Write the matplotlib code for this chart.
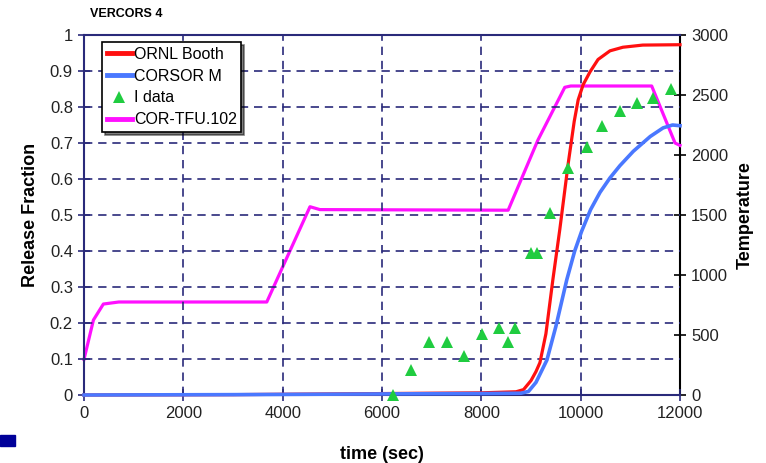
import matplotlib
matplotlib.use("Agg")
import matplotlib.pyplot as plt
from matplotlib.patches import Rectangle

plt.rcParams['font.family'] = ['Liberation Sans', 'DejaVu Sans']

# ORNL Booth release fraction
t_ornl = [0, 3000, 6000, 8000, 8700, 8850, 9000, 9100, 9180, 9300, 9440, 9580, 9750, 9870, 9950, 10050,
          10190, 10350, 10590, 10850, 11250, 12000]
f_ornl = [0, 0.001, 0.004, 0.006, 0.009, 0.015, 0.04, 0.065, 0.09, 0.17, 0.32, 0.46, 0.644, 0.76, 0.82, 0.862,
          0.898, 0.932, 0.956, 0.966, 0.972, 0.973]

# CORSOR M release fraction
t_cor = [0, 3000, 6000, 8000, 8800, 8950, 9100, 9320, 9500, 9720, 9880, 10020, 10200, 10390, 10590, 10790,
         11060, 11400, 11660, 11850, 12000]
f_cor = [0, 0.001, 0.003, 0.004, 0.005, 0.01, 0.035, 0.097, 0.19, 0.32, 0.40, 0.455, 0.515, 0.563, 0.603, 0.637,
         0.677, 0.718, 0.742, 0.750, 0.748]

# I data
t_idata = [6230, 6585, 6946, 7302, 7650, 8007, 8355, 8530, 8670, 9010, 9130, 9380, 9750, 10120, 10420, 10790,
           11140, 11460, 11810]
f_idata = [0.0, 0.07, 0.148, 0.148, 0.108, 0.169, 0.187, 0.148, 0.187, 0.394, 0.394, 0.506, 0.63, 0.69, 0.748,
           0.79, 0.81, 0.826, 0.85]

# COR-TFU.102 temperature
t_tfu = [0, 190, 390, 700, 3680, 4550, 4750, 8540, 9140, 9680, 9800, 11430, 11900, 12000]
T_tfu = [297, 625, 758, 775, 775, 1569, 1545, 1540, 2125, 2564, 2575, 2575, 2100, 2080]

x_ticks = [0, 2000, 4000, 6000, 8000, 10000, 12000]
y_ticks = [0, 0.1, 0.2, 0.3, 0.4, 0.5, 0.6, 0.7, 0.8, 0.9, 1]
y_ticklabels = ['0', '0.1', '0.2', '0.3', '0.4', '0.5', '0.6', '0.7', '0.8', '0.9', '1']
T_ticks = [0, 500, 1000, 1500, 2000, 2500, 3000]

navy = '#2a2a7a'

fig = plt.figure(figsize=(7.66, 4.63), dpi=100)
ax = fig.add_axes([84/766, 68/463, 596/766, 360/463])
ax2 = ax.twinx()

ax.set_xlim(0, 12000)
ax.set_ylim(0, 1)
ax2.set_ylim(0, 3000)

# grid
for yv in y_ticks[1:-1]:
    ax.axhline(yv, color=navy, lw=1.2, ls=(0, (5, 3.5)), zorder=0)
for xv in x_ticks[1:-1]:
    ax.axvline(xv, color=navy, lw=1.2, ls=(0, (5, 3.5)), zorder=0)

l1, = ax.plot(t_ornl, f_ornl, color='#ff1010', lw=2.3, label='ORNL Booth', clip_on=False, zorder=3)
l2, = ax.plot(t_cor, f_cor, color='#4a78ff', lw=2.6, label='CORSOR M', clip_on=False, zorder=3)
l3, = ax.plot(t_idata, f_idata, ls='none', marker='^', ms=8, color='#20cc40', markeredgewidth=0,
              label='I data', clip_on=False, zorder=4)
l4, = ax2.plot(t_tfu, T_tfu, color='#ff10ff', lw=2.3, label='COR-TFU.102', clip_on=False, zorder=3)

ax.set_zorder(ax2.get_zorder() + 1)
ax.patch.set_visible(False)

ax.set_xticks(x_ticks)
ax.set_xticklabels([str(v) for v in x_ticks])
ax.set_yticks(y_ticks)
ax.set_yticklabels(y_ticklabels)
ax2.set_yticks(T_ticks)
ax2.set_yticklabels([str(v) for v in T_ticks])

ax.tick_params(axis='both', direction='inout', length=8, width=1.2, color=navy, labelsize=12,
               labelcolor='#222222', pad=4)
ax2.tick_params(axis='y', direction='inout', length=8, width=1.2, color='black', labelsize=12,
                labelcolor='#222222', pad=4)

for s in ['left', 'bottom', 'top']:
    ax.spines[s].set_color(navy)
    ax.spines[s].set_linewidth(1.5)
ax.spines['right'].set_visible(False)
for s in ['left', 'bottom', 'top']:
    ax2.spines[s].set_visible(False)
ax2.spines['right'].set_color('black')
ax2.spines['right'].set_linewidth(1.5)

ax.set_xlabel('time (sec)', fontsize=13, fontweight='bold', labelpad=18)
ax.set_ylabel('Release Fraction', fontsize=13, fontweight='bold', labelpad=8)
ax2.set_ylabel('Temperature', fontsize=13, fontweight='bold', labelpad=6)

fig.text(90/766, 1 - 14/463, 'VERCORS 4', fontsize=9, fontweight='bold', va='center', ha='left')

leg = ax.legend(handles=[l1, l2, l3, l4], loc='upper left', bbox_to_anchor=(0.03, 0.98),
                fontsize=11.5, frameon=True, fancybox=False, shadow={'color': 'black'},
                handlelength=1.6, handletextpad=0.1, labelspacing=0.42, borderpad=0.3,
                borderaxespad=0)
leg.get_frame().set_edgecolor('black')
leg.get_frame().set_linewidth(1.2)
for h in leg.get_lines():
    h.set_linewidth(3.5)

fig.patches.append(Rectangle((0, 17/463), 15/766, 11/463, transform=fig.transFigure,
                             color='#000099', figure=fig))

fig.savefig('out.png', dpi=100)
